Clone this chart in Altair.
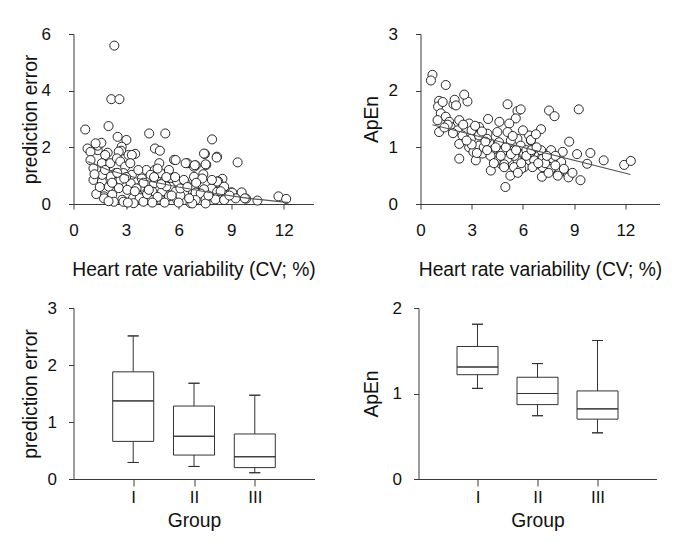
import altair as alt
import pandas as pd

# ---------------- data ----------------
# Top-left: HRV (CV %) vs prediction error
pe_x = [2.33, 2.16, 2.62, 0.67, 2.0, 2.52, 3.02, 4.32, 5.24, 7.91, 4.65, 4.93, 0.80, 1.38, 1.38, 1.59,
        1.95, 2.75, 2.72, 3.52, 5.74, 6.5, 6.98, 7.5, 7.58, 8.19, 9.37, 11.7, 12.14, 10.5, 9.85, 9.6,
        9.0, 8.5, 8.26, 7.93,
        0.97, 1.26, 0.97, 1.14, 1.14, 1.62, 1.81, 1.9, 1.62, 2.1, 2.58, 2.48, 2.67, 3.14, 3.33, 2.95,
        3.24, 2.4, 2.86, 3.33, 2.12, 1.64, 2.68, 3.26, 2.02, 2.59, 3.07, 1.74, 2.21, 2.78, 3.4, 3.78,
        4.07, 3.9, 4.16, 4.64, 4.9, 4.4, 4.97, 5.45, 5.83, 5.55, 5.16, 4.6, 3.83, 4.5, 5.06, 5.55,
        5.92, 4.4, 4.97, 5.45, 5.92, 5.83, 6.4, 6.87, 6.4, 6.31, 6.87, 6.68, 7.16,
        7.45, 8.17, 6.92, 7.54, 6.88, 7.41, 7.35, 8.2, 6.88, 7.87, 7.45, 8.6, 6.97, 7.26, 8.2, 9.06,
        6.97, 7.54, 8.1, 8.6, 9.26, 9.78, 6.78, 7.54,
        1.74, 2.3, 2.85, 3.43, 3.99, 1.3, 3.6, 4.2, 5.3, 6.1, 3.0, 4.8,
        1.5, 1.8, 2.2, 2.5, 2.9, 3.5, 3.7, 4.0, 4.3, 4.6, 4.8, 5.0, 5.3, 5.6, 5.8, 6.1,
        6.3, 6.6, 7.0, 7.7, 8.4, 8.9, 1.2, 2.0, 3.1, 4.5, 5.2, 6.0, 6.5, 7.9]
pe_y = [5.59, 3.70, 3.70, 2.63, 2.75, 2.37, 2.26, 2.49, 2.49, 2.28, 1.96, 1.88, 1.96, 1.90, 2.06, 2.16,
        1.81, 2.02, 1.88, 1.77, 1.56, 1.44, 1.36, 1.77, 1.38, 1.67, 1.47, 0.27, 0.18, 0.12, 0.19, 0.41,
        0.41, 0.89, 0.80, 0.56,
        1.84, 2.14, 1.55, 1.26, 0.85, 0.79, 1.73, 1.38, 1.44, 1.44, 1.85, 1.61, 1.50, 1.73, 1.73, 1.32,
        1.44, 1.09, 1.09, 1.03, 0.97, 1.03, 0.85, 0.73, 0.61, 0.56, 0.50, 0.27, 0.33, 0.15, 0.21, 0.21,
        0.50, 0.90, 1.20, 1.20, 1.44, 1.03, 1.09, 1.20, 1.55, 0.90, 0.79, 0.73, 0.61, 0.44, 0.44, 0.61,
        0.79, 0.15, 0.15, 0.27, 0.15, 0.44, 1.44, 1.32, 0.73, 0.38, 0.27, 0.03, 0.38,
        1.78, 1.64, 1.37, 1.40, 0.96, 1.05, 0.90, 0.79, 0.61, 0.55, 0.52, 0.61, 0.40, 0.37, 0.43, 0.40,
        0.14, 0.16, 0.16, 0.14, 0.20, 0.20, 0.02, 0.02,
        0.20, 0.08, 0.08, 0.03, 0.08, 0.35, 0.55, 0.35, 0.62, 0.30, 0.95, 0.25,
        0.60, 1.20, 0.75, 1.10, 0.90, 0.45, 1.20, 0.75, 0.50, 0.95, 1.25, 0.70, 0.95, 0.30, 0.95, 0.55,
        0.85, 0.20, 0.75, 0.30, 0.45, 0.30, 1.05, 0.10, 0.05, 0.05, 0.05, 0.05, 0.60, 0.85]
pe_fit_x = [0.8, 2.0, 4.0, 6.0, 8.0, 10.0, 12.3]
pe_fit_y = [1.50, 1.20, 0.85, 0.60, 0.38, 0.20, 0.05]

# Top-right: HRV (CV %) vs ApEn
ap_x = [0.70, 0.61, 1.48, 1.09, 1.03, 1.93, 2.75, 2.56, 1.19, 1.48, 1.0, 1.68, 2.27, 1.09, 1.77, 2.17,
        2.85, 2.99, 3.43, 3.96, 5.1, 5.68, 5.87, 5.58, 4.62, 5.2, 2.46, 2.95, 3.43, 3.92, 4.5, 5.1,
        5.68, 6.36, 2.27, 2.85, 3.43, 4.02, 4.6, 5.29, 5.87, 6.46, 2.27, 3.24, 3.63, 4.22, 4.8, 5.48,
        6.07, 6.65, 4.5, 5.1, 5.68, 6.36, 4.12, 4.7, 5.48, 6.07, 6.65, 5.26, 4.97,
        7.53, 7.85, 9.27, 7.06, 6.47, 6.76, 8.71, 6.47, 7.06, 7.65, 8.33, 9.17, 9.95, 10.73, 11.93, 12.32,
        6.66, 7.16, 7.75, 8.24, 9.76, 6.56, 7.16, 7.65, 8.14, 8.63, 8.04, 7.11, 9.37, 8.67,
        1.3, 1.6, 2.0, 2.08, 3.1, 3.7, 4.3, 4.9, 5.5, 6.2, 7.3, 3.2, 3.9, 4.4, 5.9, 7.9,
        1.4, 1.9, 2.5, 3.0, 3.3, 3.8, 4.1, 4.4, 4.7, 5.0, 5.3, 5.6, 5.9, 6.2, 6.5, 6.9,
        7.4, 7.9, 8.4, 8.9, 4.3, 3.6, 2.7, 5.4, 6.8, 4.9, 5.7, 7.5, 6.0, 3.9]
ap_y = [2.28, 2.18, 2.10, 1.82, 1.72, 1.76, 1.81, 1.93, 1.60, 1.54, 1.48, 1.45, 1.48, 1.27, 1.36, 1.30,
        1.42, 1.30, 1.36, 1.50, 1.76, 1.64, 1.67, 1.51, 1.45, 1.42, 1.21, 1.15, 1.21, 1.24, 1.27, 1.27,
        1.15, 1.21, 1.06, 1.00, 1.03, 1.09, 1.09, 1.12, 1.03, 1.12, 0.80, 0.77, 0.89, 0.95, 0.92, 0.95,
        0.89, 0.89, 0.77, 0.80, 0.77, 0.77, 0.59, 0.71, 0.65, 0.65, 0.68, 0.50, 0.30,
        1.65, 1.55, 1.67, 1.32, 1.13, 1.23, 1.10, 0.92, 0.95, 0.95, 0.92, 0.88, 0.90, 0.77, 0.69, 0.76,
        0.77, 0.80, 0.80, 0.74, 0.71, 0.65, 0.65, 0.62, 0.56, 0.53, 0.50, 0.48, 0.42, 0.47,
        1.80, 1.40, 1.84, 1.74, 0.92, 1.00, 0.82, 0.70, 0.85, 0.95, 0.72, 1.38, 1.15, 0.75, 0.62, 0.85,
        1.35, 1.25, 1.40, 1.05, 0.90, 1.10, 0.85, 1.00, 0.85, 1.00, 0.88, 0.95, 0.72, 0.85, 0.95, 0.72,
        0.85, 0.68, 0.62, 0.55, 0.72, 1.28, 1.12, 1.20, 1.00, 0.65, 0.55, 0.55, 1.30, 0.95]
ap_fit_x = [0.7, 12.3]
ap_fit_y = [1.40, 0.52]

# Bottom: box plots by group
groups = ["I", "II", "III"]
group_pos = [1, 2, 3]
pe_low = [0.29, 0.22, 0.11]
pe_q1 = [0.66, 0.42, 0.20]
pe_med = [1.37, 0.75, 0.39]
pe_q3 = [1.88, 1.28, 0.79]
pe_high = [2.51, 1.68, 1.47]

ap_low = [1.06, 0.74, 0.54]
ap_q1 = [1.22, 0.87, 0.70]
ap_med = [1.31, 1.00, 0.82]
ap_q3 = [1.55, 1.19, 1.03]
ap_high = [1.81, 1.35, 1.62]

# ---------------- styling ----------------
FONT = "Liberation Sans"
AX = "#3a3a3a"
XTITLE = "Heart rate variability (CV; %)"
NUM = "'' + datum.value"

def scatter_panel(xs, ys, fx, fy, ytitle, ymax, yvals, xmax, width, ytp):
    df = pd.DataFrame({"x": xs, "y": ys})
    fit = pd.DataFrame({"x": fx, "y": fy})
    xsc = alt.Scale(domain=[0, xmax], nice=False, zero=False)
    ysc = alt.Scale(domain=[0, ymax], nice=False)
    xax = alt.Axis(values=[0, 3, 6, 9, 12], labelExpr=NUM, title=XTITLE, labelPadding=13, titlePadding=22)
    yax = alt.Axis(values=yvals, labelExpr=NUM, title=ytitle, labelPadding=18, titlePadding=ytp)
    pts = alt.Chart(df).mark_point(shape="circle", filled=False, fill="white", fillOpacity=1,
                                   stroke="#111", strokeWidth=0.9, size=82, opacity=1).encode(
        x=alt.X("x:Q", scale=xsc, axis=xax),
        y=alt.Y("y:Q", scale=ysc, axis=yax),
    )
    line = alt.Chart(fit).mark_line(color="#555", strokeWidth=1.1).encode(
        x=alt.X("x:Q", scale=xsc, axis=xax), y=alt.Y("y:Q", scale=ysc, axis=yax))
    return (pts + line).properties(width=width, height=170)


def box_panel(low, q1, med, q3, high, ytitle, ymax, yvals, width, ytp):
    df = pd.DataFrame({"pos": group_pos, "g": groups, "low": low, "q1": q1,
                       "med": med, "q3": q3, "high": high})
    xsc = alt.Scale(domain=[0.1, 3.9], nice=False, zero=False)
    ysc = alt.Scale(domain=[0, ymax], nice=False)
    expr = " : ".join([f"datum.value == {p} ? '{g}'" for p, g in zip(group_pos, groups)]) + " : ''"
    xax = alt.Axis(values=group_pos, labelExpr=expr, title="Group", tickSize=7,
                   labelPadding=3, titlePadding=6)
    yax = alt.Axis(values=yvals, labelExpr=NUM, title=ytitle, labelPadding=12, titlePadding=ytp)
    base = alt.Chart(df).encode(x=alt.X("pos:Q", scale=xsc, axis=xax))
    def Y(f):
        return alt.Y(f, type="quantitative", scale=ysc, axis=yax)
    whisk = base.mark_rule(color="#333", strokeWidth=1).encode(y=Y("low"), y2="high:Q")
    box = base.mark_bar(size=41, fill="white", stroke="#333", strokeWidth=1).encode(y=Y("q1"), y2="q3:Q")
    medl = base.mark_bar(size=41, fill="white", stroke="#333", strokeWidth=1).encode(y=Y("med"), y2="med:Q")
    caph = base.mark_bar(size=11, fill="white", stroke="#333", strokeWidth=1).encode(y=Y("high"), y2="high:Q")
    capl = base.mark_bar(size=11, fill="white", stroke="#333", strokeWidth=1).encode(y=Y("low"), y2="low:Q")
    return (whisk + box + medl + caph + capl).properties(width=width, height=171)


tl = scatter_panel(pe_x, pe_y, pe_fit_x, pe_fit_y, "prediction error", 6, [0, 2, 4, 6], 13.7, 240, 1)
tr = scatter_panel(ap_x, ap_y, ap_fit_x, ap_fit_y, "ApEn", 3, [0, 1, 2, 3], 14, 239, 7)
bl = box_panel(pe_low, pe_q1, pe_med, pe_q3, pe_high, "prediction error", 3, [0, 1, 2, 3], 241, 7)
br = box_panel(ap_low, ap_q1, ap_med, ap_q3, ap_high, "ApEn", 2, [0, 1, 2], 238, 11)

top = alt.hconcat(tl, tr, spacing=46).resolve_scale(x="independent", y="independent")
bottom = alt.hconcat(bl, br, spacing=47).resolve_scale(x="independent", y="independent")

chart = alt.vconcat(top, bottom, spacing=19).properties(
    padding={"left": 12.5, "top": 17, "right": 5, "bottom": 5},
    background="white",
).configure_view(stroke=None).configure_axis(
    grid=False, domainColor=AX, tickColor=AX, domainWidth=1, tickWidth=1, tickSize=5,
    labelFont=FONT, titleFont=FONT, labelFontSize=17, titleFontSize=19.3,
    labelColor="#111", titleColor="#111", titleFontWeight="normal", labelFlush=False,
    labelOverlap=False
)

chart.save("out.html", embed_options={"renderer": "svg", "actions": False})
